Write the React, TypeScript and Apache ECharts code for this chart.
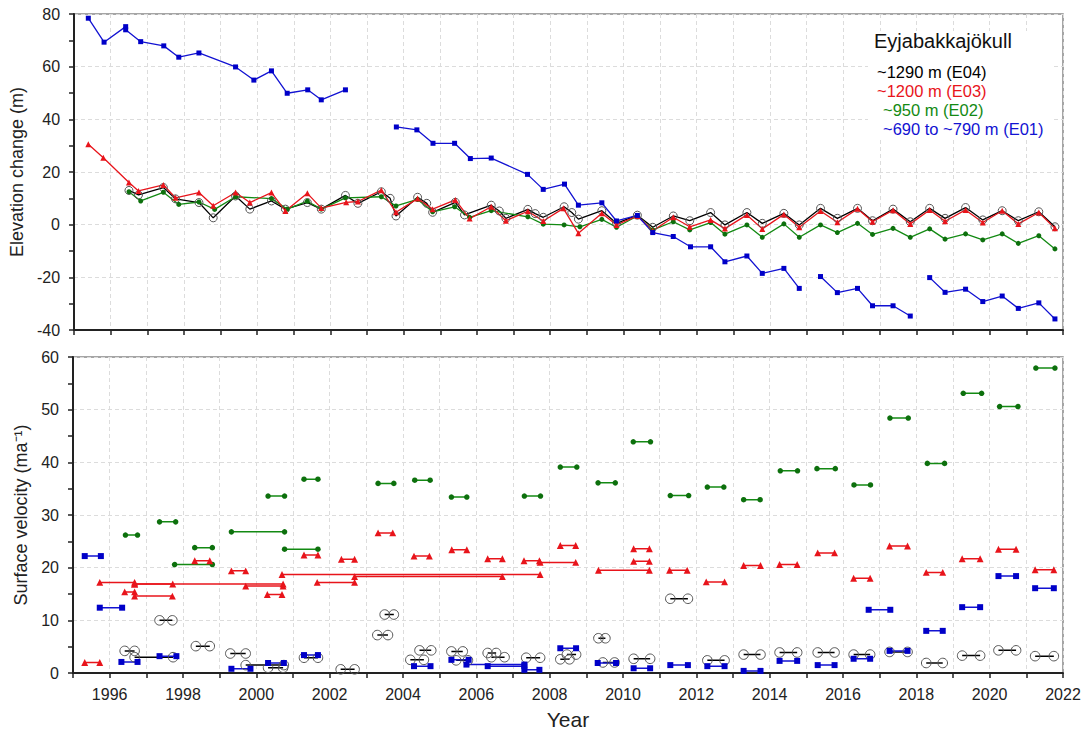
import React, { useEffect, useRef } from "react";
import * as echarts from "echarts";

// ---------- Elevation change (m): [decimal year, value] ----------
const elevE04: number[][] = [
  [1996.5, 13.0], [1996.76, 11.3], [1997.44, 14.1], [1997.77, 9.8], [1998.41, 8.4], [1998.8, 2.6],
  [1999.41, 10.9], [1999.8, 5.9], [2000.39, 9.0], [2000.77, 5.9], [2001.37, 8.4], [2001.75, 5.9],
  [2002.41, 11.1], [2002.75, 8.1], [2003.39, 12.5], [2003.63, 10.0], [2003.79, 3.3], [2004.38, 10.4],
  [2004.63, 8.1], [2004.79, 4.7], [2005.41, 8.5], [2005.66, 3.7], [2006.39, 7.4], [2006.61, 5.2],
  [2006.79, 2.4], [2007.39, 5.8], [2007.59, 4.2], [2007.81, 2.8], [2008.38, 6.8], [2008.59, 4.6],
  [2008.77, 2.1], [2009.41, 5.3], [2009.81, 0.5], [2010.38, 3.6], [2010.8, -1.0], [2011.36, 3.3],
  [2011.81, 1.5], [2012.38, 4.6], [2012.77, -0.1], [2013.37, 4.6], [2013.79, 0.5], [2014.38, 4.3],
  [2014.8, -0.1], [2015.38, 6.2], [2015.84, 2.4], [2016.39, 6.2], [2016.8, 1.5], [2017.36, 5.9],
  [2017.83, 1.1], [2018.36, 6.2], [2018.78, 2.4], [2019.34, 6.5], [2019.81, 1.8], [2020.34, 5.3],
  [2020.78, 1.5], [2021.34, 4.9], [2021.78, -0.8],
];
const elevE03: number[][] = [
  [1995.39, 30.5], [1995.8, 25.4], [1996.5, 16.0], [1996.76, 12.8], [1997.44, 15.1], [1997.77, 10.2],
  [1998.41, 12.2], [1998.8, 7.2], [1999.41, 12.2], [1999.8, 8.4], [2000.39, 12.2], [2000.77, 5.2],
  [2001.37, 11.9], [2001.75, 6.3], [2002.43, 8.5], [2002.75, 8.8], [2003.39, 13.1], [2003.79, 4.7],
  [2004.38, 9.9], [2004.79, 5.9], [2005.41, 9.4], [2005.8, 2.3], [2006.39, 6.8], [2006.79, 1.5],
  [2007.39, 5.1], [2007.81, 1.4], [2008.36, 6.2], [2008.77, -3.3], [2009.41, 4.3], [2009.81, -0.1],
  [2010.38, 3.3], [2010.8, -2.3], [2011.36, 2.8], [2011.81, -0.8], [2012.38, 1.8], [2012.77, -1.5],
  [2013.37, 3.7], [2013.79, -1.6], [2014.38, 3.9], [2014.8, -1.0], [2015.38, 5.2], [2015.84, 0.9],
  [2016.39, 6.0], [2016.8, 1.1], [2017.36, 5.5], [2017.83, 0.3], [2018.36, 5.6], [2018.78, 1.3],
  [2019.34, 5.6], [2019.81, 0.8], [2020.34, 5.3], [2020.78, 0.3], [2021.34, 4.6], [2021.78, -1.4],
];
const elevE02: number[][] = [
  [1996.5, 12.5], [1996.82, 9.0], [1997.44, 12.3], [1997.86, 7.7], [1998.41, 8.6], [1998.84, 5.8],
  [1999.41, 10.6], [2000.39, 9.9], [2000.82, 5.9], [2001.37, 8.9], [2001.75, 5.9], [2002.41, 10.2],
  [2003.39, 10.6], [2003.79, 7.1], [2004.38, 9.6], [2004.79, 4.9], [2005.39, 6.8], [2005.8, 2.8],
  [2006.39, 5.3], [2007.39, 3.0], [2007.81, 0.2], [2008.38, -0.1], [2008.81, -0.8], [2009.41, 2.0],
  [2009.81, -1.0], [2010.38, 3.3], [2010.8, -2.0], [2011.36, 1.1], [2011.81, -2.0], [2012.38, 0.8],
  [2012.77, -3.6], [2013.37, -0.1], [2013.79, -4.8], [2014.38, 0.3], [2014.8, -4.8], [2015.38, -0.1],
  [2015.84, -3.0], [2016.39, 0.5], [2016.8, -3.7], [2017.36, -1.4], [2017.83, -4.8], [2018.36, -1.6],
  [2018.78, -5.5], [2019.34, -3.5], [2019.81, -5.8], [2020.34, -3.5], [2020.78, -7.1], [2021.34, -4.2],
  [2021.78, -9.2],
];
const elevE01a: number[][] = [
  [1995.39, 78.4], [1995.82, 69.3], [1996.41, 75.2], [1996.41, 74.0], [1996.82, 69.5], [1997.45, 67.9],
  [1997.86, 63.6], [1998.41, 65.2], [1999.41, 59.9], [1999.91, 54.9], [2000.39, 58.4], [2000.82, 49.9],
  [2001.38, 51.2], [2001.75, 47.4], [2002.41, 51.2],
];
const elevE01b: number[][] = [
  [2003.8, 37.1], [2004.36, 36.0], [2004.8, 30.9], [2005.39, 30.9], [2005.82, 25.1], [2006.39, 25.3],
  [2007.38, 19.1], [2007.81, 13.4], [2008.39, 15.4], [2008.77, 7.4], [2009.41, 8.3], [2009.81, 1.4],
  [2010.38, 3.5], [2010.8, -3.0], [2011.36, -4.5], [2011.83, -8.4], [2012.38, -8.4], [2012.77, -14.1],
  [2013.37, -11.9], [2013.79, -18.5], [2014.38, -16.6], [2014.8, -24.2],
];
const elevE01c: number[][] = [
  [2015.38, -19.7], [2015.84, -25.8], [2016.39, -24.2], [2016.8, -30.8], [2017.36, -30.8], [2017.83, -34.7],
];
const elevE01d: number[][] = [
  [2018.36, -20.1], [2018.78, -25.7], [2019.34, -24.5], [2019.81, -29.2], [2020.34, -27.1], [2020.78, -31.8],
  [2021.34, -29.7], [2021.78, -35.8],
];

// ---------- Surface velocity (m/a): [start year, end year, value] ----------
const velE04: number[][] = [
  [1996.41, 1996.68, 4.2], [1996.68, 1997.73, 3.0], [1997.36, 1997.71, 10.0], [1998.35, 1998.73, 5.1],
  [1999.29, 1999.71, 3.7], [1999.71, 2000.75, 1.5], [2000.32, 2000.73, 1.0], [2001.3, 2001.68, 2.9],
  [2002.3, 2002.68, 0.7], [2003.3, 2003.59, 7.2], [2003.5, 2003.75, 11.1], [2004.2, 2004.57, 2.5],
  [2004.45, 2004.77, 4.3], [2005.32, 2005.63, 4.1], [2005.45, 2005.77, 2.4], [2006.31, 2006.54, 3.8],
  [2006.41, 2006.77, 3.0], [2007.36, 2007.74, 2.9], [2008.29, 2008.54, 2.6], [2008.47, 2008.72, 3.5],
  [2009.33, 2009.52, 6.6], [2009.45, 2009.77, 2.0], [2010.29, 2010.74, 2.7], [2011.29, 2011.77, 14.1],
  [2012.3, 2012.77, 2.4], [2013.29, 2013.75, 3.5], [2014.27, 2014.75, 3.9], [2015.31, 2015.77, 3.9],
  [2016.29, 2016.74, 3.5], [2017.27, 2017.76, 4.0], [2018.27, 2018.72, 1.9], [2019.25, 2019.74, 3.3],
  [2020.24, 2020.72, 4.3], [2021.24, 2021.75, 3.2],
];
const velE03: number[][] = [
  [1995.32, 1995.73, 2.0], [1995.73, 1996.68, 17.2], [1996.41, 1996.68, 15.4], [1996.68, 1997.71, 14.6],
  [1996.68, 2000.73, 16.9], [1996.68, 1997.72, 16.9], [1999.71, 2000.73, 16.5], [1998.32, 1998.73, 21.3],
  [1999.32, 1999.71, 19.4], [2000.3, 2000.7, 14.9], [2000.7, 2007.74, 18.7], [2001.3, 2001.68, 22.4],
  [2001.66, 2002.68, 17.2], [2002.32, 2002.68, 21.6], [2002.68, 2006.71, 18.3], [2003.32, 2003.72, 26.6],
  [2004.3, 2004.72, 22.2], [2005.33, 2005.74, 23.4], [2006.31, 2006.71, 21.7], [2007.3, 2007.72, 21.3],
  [2007.74, 2008.71, 21.0], [2008.29, 2008.71, 24.2], [2009.33, 2010.72, 19.5], [2010.29, 2010.72, 23.6],
  [2010.29, 2010.72, 21.2], [2011.27, 2011.75, 19.5], [2012.27, 2012.77, 17.3], [2013.29, 2013.75, 20.4],
  [2014.27, 2014.75, 20.6], [2015.31, 2015.77, 22.8], [2016.29, 2016.74, 18.0], [2017.27, 2017.76, 24.1],
  [2018.27, 2018.72, 19.1], [2019.25, 2019.74, 21.7], [2020.24, 2020.72, 23.5], [2021.24, 2021.75, 19.6],
];
const velE02: number[][] = [
  [1996.43, 1996.76, 26.2], [1997.36, 1997.8, 28.7], [1997.77, 1998.8, 20.6], [1998.32, 1998.8, 23.8],
  [1999.32, 2000.77, 26.8], [2000.32, 2000.77, 33.6], [2000.77, 2001.68, 23.5], [2001.3, 2001.68, 36.8],
  [2003.32, 2003.75, 36.0], [2004.32, 2004.74, 36.6], [2005.32, 2005.74, 33.4], [2007.31, 2007.75, 33.6],
  [2008.29, 2008.74, 39.1], [2009.32, 2009.79, 36.1], [2010.28, 2010.75, 43.9], [2011.29, 2011.79, 33.7],
  [2012.3, 2012.75, 35.3], [2013.29, 2013.74, 32.9], [2014.29, 2014.76, 38.4], [2015.29, 2015.79, 38.8],
  [2016.3, 2016.75, 35.7], [2017.28, 2017.78, 48.4], [2018.3, 2018.77, 39.8], [2019.28, 2019.78, 53.1],
  [2020.27, 2020.77, 50.6], [2021.26, 2021.78, 57.9],
];
const velE01: number[][] = [
  [1995.32, 1995.76, 22.2], [1995.73, 1996.34, 12.4], [1996.32, 1996.76, 2.1], [1997.36, 1997.82, 3.2],
  [1999.32, 1999.84, 0.8], [2000.32, 2000.75, 1.9], [2001.3, 2001.68, 3.4], [2004.3, 2004.75, 1.3],
  [2005.32, 2005.79, 2.5], [2005.73, 2007.31, 1.6], [2006.31, 2007.31, 1.3], [2007.31, 2007.72, 0.6],
  [2008.29, 2008.72, 4.7], [2009.31, 2009.81, 1.9], [2010.29, 2010.74, 0.9], [2011.29, 2011.77, 1.5],
  [2012.3, 2012.77, 1.3], [2013.29, 2013.75, 0.4], [2014.27, 2014.75, 2.3], [2015.31, 2015.77, 1.5],
  [2016.29, 2016.74, 2.7], [2016.7, 2017.29, 12.0], [2017.27, 2017.76, 4.2], [2018.27, 2018.72, 8.0],
  [2019.25, 2019.74, 12.5], [2020.24, 2020.72, 18.4], [2021.24, 2021.75, 16.1],
];

const legendTitle = "Eyjabakkajökull";
const legendLines = ["~1290 m (E04)", "~1200 m (E03)", "~950 m (E02)", "~690 to ~790 m (E01)"];

const FONT = "'Liberation Sans', Arial, sans-serif";
const BLACK = "#000000";
const RED = "#e8141b";
const GREEN = "#138a13";
const BLUE = "#1212d2";

type Style = { line: string; symbol: string; size: number; fill: string; border?: string };
const S04: Style = { line: BLACK, symbol: "circle", size: 8, fill: "rgba(0,0,0,0)", border: "#555" };
const S03: Style = { line: RED, symbol: "triangle", size: 6, fill: RED };
const S02: Style = { line: GREEN, symbol: "circle", size: 5, fill: "#0d700d" };
const S01: Style = { line: BLUE, symbol: "rect", size: 5, fill: "#0000c8" };

function lineSeries(data: number[][], st: Style, axis: number, width: number, sizeScale = 1) {
  return {
    type: "line",
    xAxisIndex: axis,
    yAxisIndex: axis,
    data,
    symbol: st.symbol,
    symbolSize: st.size * sizeScale,
    showSymbol: true,
    lineStyle: { color: st.line, width },
    itemStyle: st.border
      ? { color: st.fill, borderColor: st.border, borderWidth: 1 }
      : { color: st.fill, borderWidth: 0 },
    silent: true,
  };
}

function segSeries(segs: number[][], st: Style, sizeScale: number) {
  return segs.map((s) =>
    lineSeries([[s[0], s[2]], [s[1], s[2]]], st, 1, 1.5, sizeScale)
  );
}

export default function App() {
  const ref = useRef<HTMLDivElement>(null);
  useEffect(() => {
    if (!ref.current) return;
    const chart = echarts.init(ref.current, undefined, { renderer: "svg" });
    const gridL = 73;
    const gridW = 990;
    const xCommon = (show: boolean) => ({
      type: "value",
      min: 1995,
      max: 2022,
      interval: 1,
      axisLine: { show: true, onZero: false, lineStyle: { color: "#222", width: 2 } },
      axisTick: { show: true, inside: false, length: 5, lineStyle: { color: "#222", width: 1.5 } },
      axisLabel: {
        show,
        margin: 13,
        fontSize: 16,
        color: "#222",
        fontFamily: FONT,
        formatter: (v: number) => (Math.round(v) % 2 === 0 && Math.abs(v - Math.round(v)) < 1e-6 ? String(Math.round(v)) : ""),
      },
      splitLine: { show: true, lineStyle: { color: "#dcdcdc", type: [4, 3], width: 1 } },
    });
    const yCommon = (min: number, max: number, interval: number, name: string, gap: number) => ({
      type: "value",
      min,
      max,
      interval,
      name,
      nameLocation: "middle",
      nameGap: gap,
      nameTextStyle: { fontSize: 18, color: "#222", fontFamily: FONT },
      axisLine: { show: true, lineStyle: { color: "#222", width: 2 } },
      axisTick: { show: true, inside: false, length: 5, lineStyle: { color: "#222", width: 1.5 } },
      minorTick: { show: true, splitNumber: 2, length: 5, lineStyle: { color: "#222", width: 1.5 } },
      axisLabel: { margin: 14, fontSize: 16, color: "#222", fontFamily: FONT },
      splitLine: { show: true, lineStyle: { color: "#dcdcdc", type: [4, 3], width: 1 } },
    });

    const series: any[] = [
      lineSeries(elevE04, S04, 0, 1.3),
      lineSeries(elevE02, S02, 0, 1.3),
      lineSeries(elevE03, S03, 0, 1.3),
      lineSeries(elevE01a, S01, 0, 1.3),
      lineSeries(elevE01b, S01, 0, 1.3),
      lineSeries(elevE01c, S01, 0, 1.3),
      lineSeries(elevE01d, S01, 0, 1.3),
      ...segSeries(velE04, S04, 1.2),
      ...segSeries(velE02, S02, 1.1),
      ...segSeries(velE03, S03, 1.15),
      ...segSeries(velE01, S01, 1.2),
    ];

    const legendColors = [BLACK, RED, GREEN, BLUE];
    const legendX = [877, 877, 883, 883];
    const legendY = [72, 91, 110, 129];

    chart.setOption({
      animation: false,
      backgroundColor: "#ffffff",
      grid: [
        { left: gridL, top: 14, width: gridW, height: 316, show: true, borderColor: "#888", borderWidth: 1.5, backgroundColor: "transparent" },
        { left: gridL, top: 357, width: gridW, height: 316, show: true, borderColor: "#888", borderWidth: 1.5, backgroundColor: "transparent" },
      ],
      xAxis: [
        { gridIndex: 0, ...xCommon(false) },
        {
          gridIndex: 1,
          ...xCommon(true),
          name: "Year",
          nameLocation: "middle",
          nameGap: 36,
          nameTextStyle: { fontSize: 21, color: "#222", fontFamily: FONT },
        },
      ],
      yAxis: [
        { gridIndex: 0, ...yCommon(-40, 80, 20, "Elevation change (m)", 38) },
        { gridIndex: 1, ...yCommon(0, 60, 10, "Surface velocity (ma⁻¹)", 38) },
      ],
      graphic: [
        {
          type: "rect",
          shape: { x: 868, y: 31, width: 186, height: 109 },
          style: { fill: "#ffffff" },
          z: 50,
        },
        {
          type: "text",
          left: 874,
          top: 31,
          z: 51,
          style: { text: legendTitle, fontSize: 20, fill: "#111", fontFamily: FONT },
        },
        ...legendLines.map((t, i) => ({
          type: "text",
          left: legendX[i],
          top: legendY[i] - 9,
          z: 51,
          style: { text: t, fontSize: 16.5, fill: legendColors[i], fontFamily: FONT },
        })),
      ],
      series,
    });
    return () => chart.dispose();
  }, []);
  return (
    <div
      ref={ref}
      style={{ position: "absolute", left: 0, top: 0, width: 1086, height: 735, background: "#fff" }}
    />
  );
}
